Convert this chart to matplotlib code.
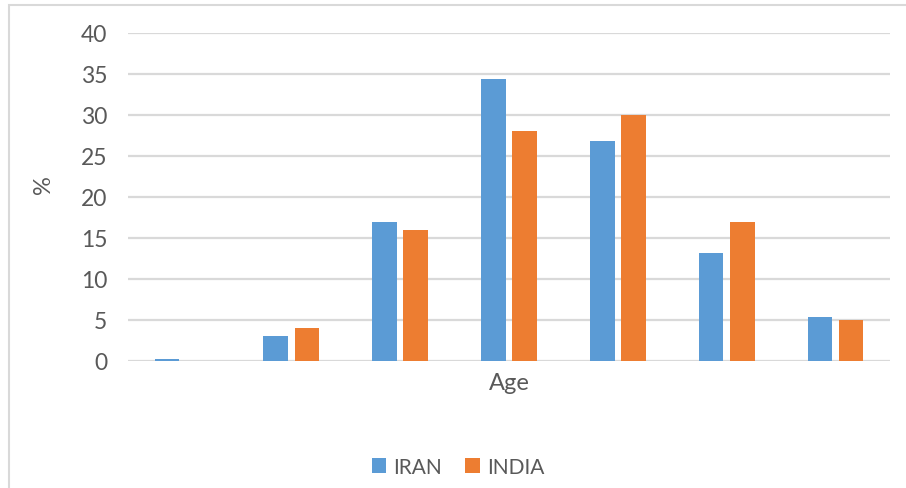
import matplotlib.pyplot as plt
from matplotlib.patches import Rectangle
import numpy as np

plt.rcParams['font.family'] = ['Lato', 'DejaVu Sans']

# share of respondents per age group (%)
age_groups = ['1', '2', '3', '4', '5', '6', '7']
iran = [0.2, 3.0, 16.9, 34.4, 26.8, 13.2, 5.4]
india = [0.0, 4.0, 16.0, 28.0, 30.0, 17.0, 5.0]
y_ticks = [0, 5, 10, 15, 20, 25, 30, 35, 40]

blue = '#5B9BD5'
orange = '#ED7D31'
grid_col = '#D9D9D9'
text_col = '#595959'

W, H = 906, 489
fig = plt.figure(figsize=(W / 100, H / 100), dpi=100)
ax = fig.add_axes([128 / W, 1 - 362 / H, (890 - 128) / W, (362 - 34) / H])

x = np.arange(len(age_groups))
width = 0.225
offset = 0.143
ax.bar(x - offset, iran, width, color=blue, label='IRAN', zorder=3)
ax.bar(x + offset, india, width, color=orange, label='INDIA', zorder=3)

ax.set_xlim(-0.5, len(age_groups) - 0.5)
ax.set_ylim(0, 40)
ax.set_yticks(y_ticks)
ax.set_xticks([])
ax.yaxis.grid(True, color=grid_col, linewidth=1.6, zorder=0)
for s in ax.spines.values():
    s.set_visible(False)
ax.tick_params(axis='y', length=0, pad=15, labelsize=16.5, labelcolor=text_col)

ax.set_ylabel('%', fontsize=17, color=text_col)
ax.yaxis.set_label_coords(-0.097, 0.54)
ax.set_xlabel('Age', fontsize=17, color=text_col, labelpad=8)

leg = fig.legend(loc='center', bbox_to_anchor=(458 / W, 1 - 468 / H), ncol=2,
                 frameon=False, fontsize=15, handlelength=0.7, handleheight=0.7,
                 handletextpad=0.35, columnspacing=1.1)
for t in leg.get_texts():
    t.set_color(text_col)

# chart frame
fig.patches.append(Rectangle((8.5 / W, -0.1), 1.2, 1 - 5.5 / H + 0.1,
                             transform=fig.transFigure, fill=False,
                             edgecolor=grid_col, linewidth=1.5))

fig.savefig('out.png', dpi=100)
